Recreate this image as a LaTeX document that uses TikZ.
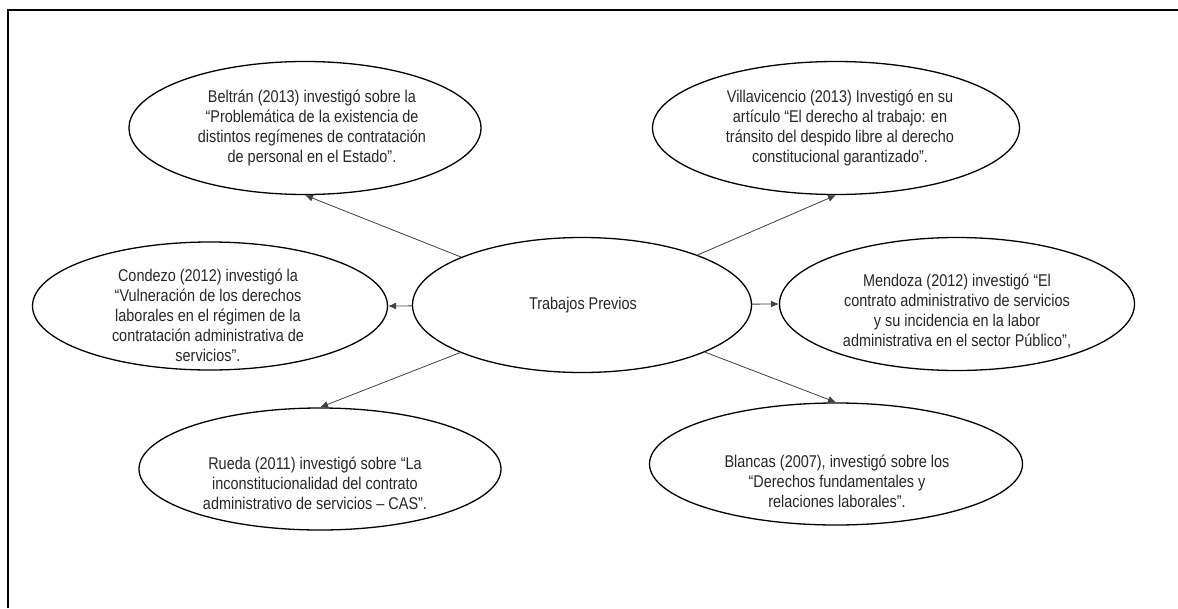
\documentclass[tikz,border=0pt]{standalone}
\usepackage{fontspec}
\setmainfont{Liberation Sans}[FakeStretch=0.85]
\usetikzlibrary{shapes.geometric,arrows.meta}
\begin{document}
\begin{tikzpicture}[x=1pt,y=-1pt,
  oval/.style={ellipse,draw=black,line width=1.3pt,inner sep=0pt},
  txt/.style={align=center,inner sep=0pt,text=black!85,
    font=\fontsize{17}{20}\selectfont},
  link/.style={draw=black!75,line width=0.8pt,
    -{Latex[length=8pt,width=7pt]}}]
\useasboundingbox (0,0) rectangle (1178,608);
% page frame
\draw[line width=2pt] (8,608) -- (8,9.5) -- (1178,9.5);

% central topic
\node[oval,minimum width=339pt,minimum height=135pt] (hub) at (582,305) {};
\node[txt] (hubt) at (583,305) {Trabajos Previos};

% surrounding studies
\node[oval,minimum width=352pt,minimum height=133pt] (beltran) at (305,128) {};
\node[txt] (beltrant) at (312,128) {Beltrán (2013) investigó sobre la\\
  “Problemática de la existencia de\\
  distintos regímenes de contratación\\
  de personal en el Estado”.};

\node[oval,minimum width=367pt,minimum height=133pt] (villa) at (836,128) {};
\node[txt] (villat) at (840,128) {Villavicencio (2013) Investigó en su\\
  artículo “El derecho al trabajo: en\\
  tránsito del despido libre al derecho\\
  constitucional garantizado”.};

\node[oval,minimum width=355pt,minimum height=128pt] (condezo) at (210,306) {};
\node[txt] (condezot) at (208,315) {Condezo (2012) investigó la\\
  “Vulneración de los derechos\\
  laborales en el régimen de la\\
  contratación administrativa de\\
  servicios”.};

\node[oval,minimum width=355pt,minimum height=133pt] (mendoza) at (957,304) {};
\node[txt] (mendozat) at (957,311) {Mendoza (2012) investigó “El\\
  contrato administrativo de servicios\\
  y su incidencia en la labor\\
  administrativa en el sector Público”,};

\node[oval,minimum width=362pt,minimum height=122pt] (rueda) at (320,469) {};
\node[txt] (ruedat) at (315,483) {Rueda (2011) investigó sobre “La\\
  inconstitucionalidad del contrato\\
  administrativo de servicios – CAS”.};

\node[oval,minimum width=373pt,minimum height=122pt] (blancas) at (836,464) {};
\node[txt] (blancast) at (837,481) {Blancas (2007), investigó sobre los\\
  “Derechos fundamentales y\\
  relaciones laborales”.};

% connectors from the central topic
\draw[link] (hub) -- (beltran.south);
\draw[link] (hub) -- (villa.south);
\draw[link] (hub) -- (condezo.east);
\draw[link] (hub) -- (mendoza.west);
\draw[link] (hub) -- (rueda.north);
\draw[link] (hub) -- (blancas.north);
\end{tikzpicture}
\end{document}
